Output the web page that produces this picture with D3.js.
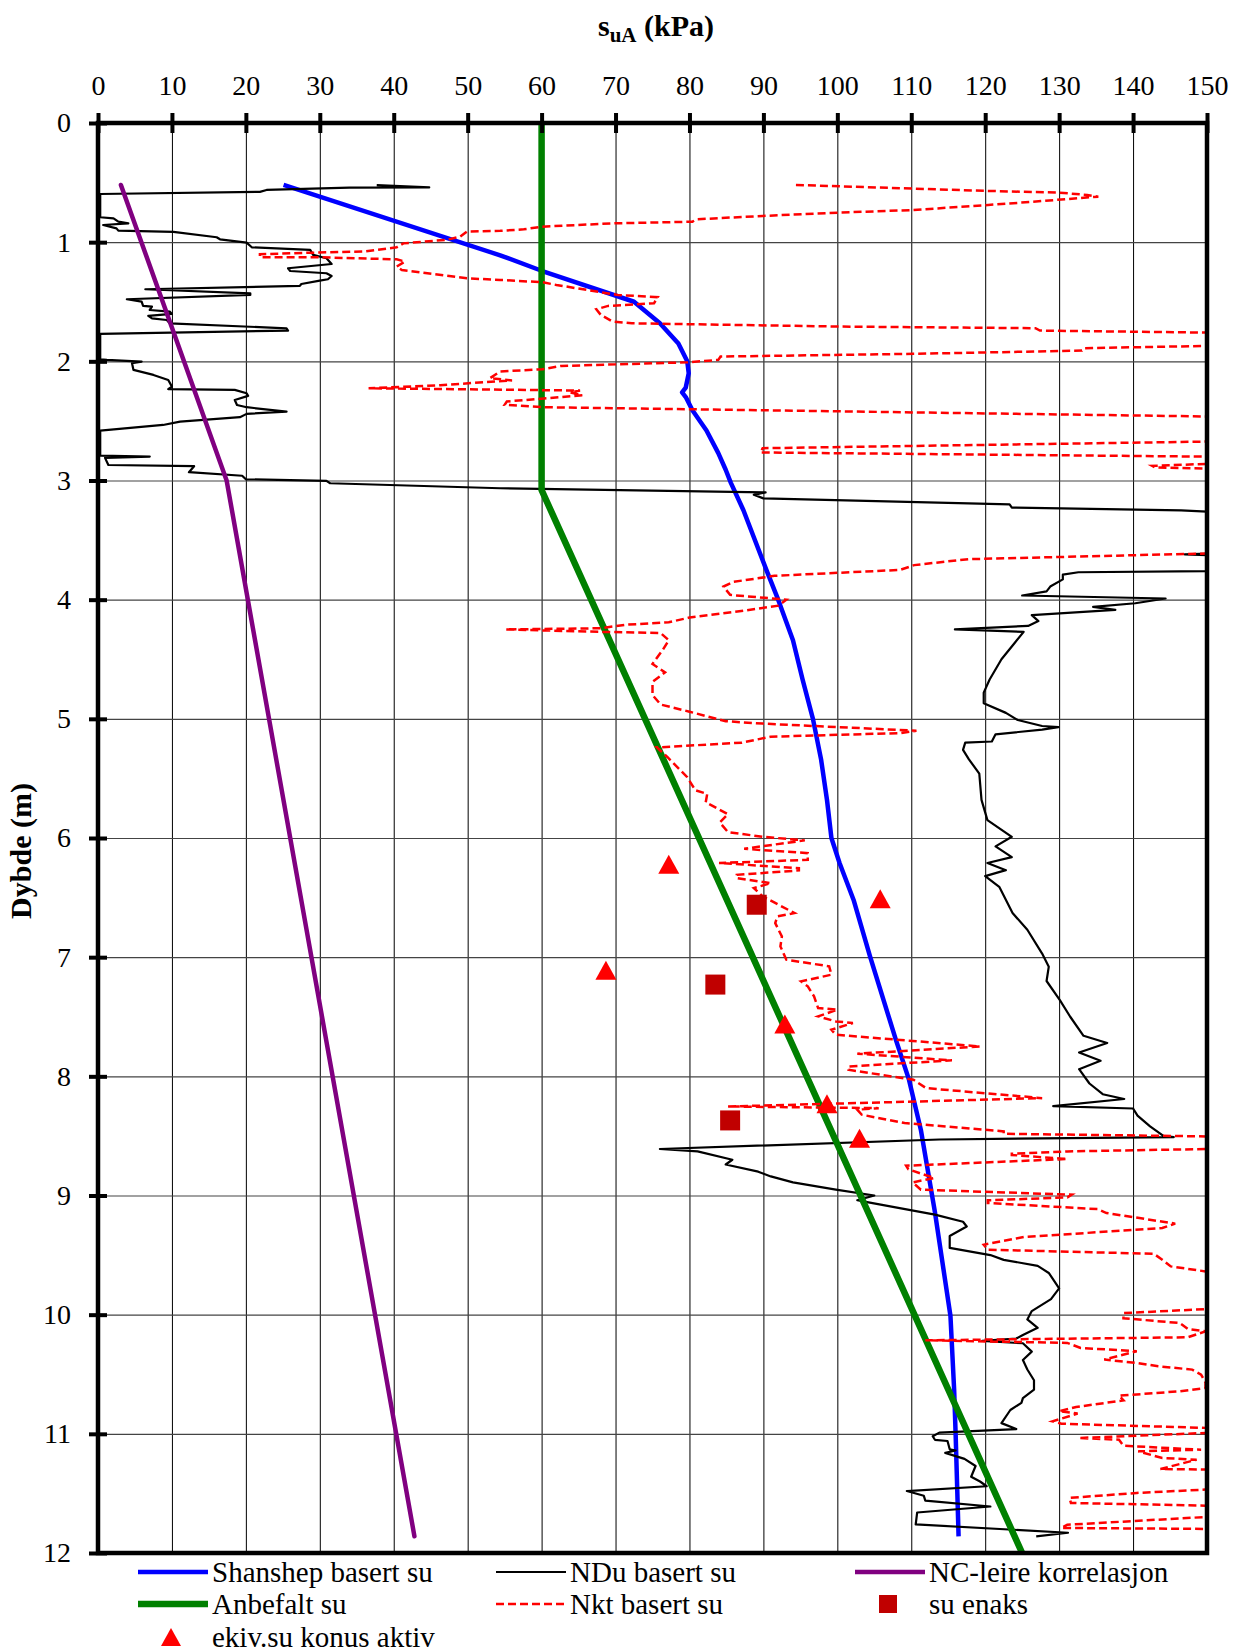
<!DOCTYPE html>
<html>
<head>
<meta charset="utf-8">
<script src="https://cdn.jsdelivr.net/npm/d3@7"></script>
<style>
  html, body { margin: 0; padding: 0; background: #fff; }
  svg { display: block; font-family: "Liberation Serif", "Times New Roman", serif; }
</style>
</head>
<body>
<svg id="chart" width="1236" height="1650"></svg>
<script>
// ---- Axis ticks ----
const suTicks = d3.range(0, 151, 10);      // kPa
const depthTicks = d3.range(0, 13, 1);     // m

// ---- Series: [su (kPa), depth (m)] ----
const shanshep = [
  [25.1,0.52],[54.4,1.11],[60,1.24],[72.5,1.50],[76.0,1.68],[78.5,1.85],[79.7,2.0],[79.9,2.1],
  [79.5,2.22],[79.0,2.26],[79.5,2.30],[80.4,2.41],[82.3,2.58],[83.9,2.77],[84.9,2.91],[85.6,3.02],
  [87.3,3.25],[90.4,3.75],[92.0,4.0],[94.0,4.34],[95.3,4.67],[96.7,5.0],[97.8,5.34],[98.6,5.68],
  [99.2,6.0],[100.3,6.21],[102.2,6.52],[104.4,6.99],[107.9,7.69],[109.7,8.03],[111.3,8.45],
  [113.2,9.14],[115.3,10.01],[115.8,10.63],[116.0,11.0],[116.4,11.86]
];

const ndu = [
  [37.7,0.522],[44.8,0.540],[34.0,0.543],[22.8,0.562],[21.9,0.578],[0.3,0.596],
  [0.3,0.791],[2.1,0.80],[2.75,0.828],[4.1,0.842],[0.7,0.856],[2.5,0.884],[2.75,0.903],[10.2,0.914],
  [16.05,0.959],[16.5,0.976],[20.1,1.004],[20.8,1.043],[28.7,1.065],[29.1,1.107],[30.9,1.135],
  [31.6,1.183],[25.7,1.219],[26.0,1.242],[30.9,1.261],[31.6,1.284],[31.1,1.311],[30.0,1.323],
  [27.5,1.351],[27.3,1.367],[6.4,1.395],[20.6,1.429],[20.6,1.443],[3.9,1.479],[5.9,1.499],
  [6.1,1.535],[7.3,1.541],[7.0,1.569],[9.7,1.583],[10.0,1.602],[6.8,1.619],[7.3,1.639],[9.3,1.653],
  [9.7,1.681],[25.5,1.723],[25.7,1.742],[0.3,1.770],
  [0.3,1.983],[1.2,1.988],[5.9,2.002],[4.6,2.016],[4.8,2.072],[7.5,2.114],[9.5,2.156],[10.0,2.212],
  [9.5,2.234],[18.5,2.240],[20.1,2.268],[20.3,2.290],[18.5,2.324],[18.8,2.366],[20.1,2.385],
  [25.5,2.422],[20.1,2.441],[19.2,2.469],[11.1,2.506],[8.8,2.534],[0.3,2.581],
  [0.3,2.791],[7.0,2.799],[0.95,2.81],[1.4,2.87],[13.0,2.88],[12.3,2.93],[19.5,2.96],[20.0,2.99],
  [30.9,3.003],[31.4,3.023],[54.4,3.065],[90.3,3.10],[88.7,3.12],[90.0,3.15],[123.3,3.2],
  [123.6,3.227],[146.5,3.25],[160,3.29],
  [160,3.59],[147,3.62],[160,3.65],
  [160,3.74],[150,3.76],[132.6,3.77],[130.5,3.79],[130.5,3.83],[128.8,3.89],[128.3,3.93],
  [125.0,3.965],[144.4,3.99],[140.3,4.03],[134.6,4.06],[137.6,4.085],[126.3,4.13],[127.2,4.18],
  [125.8,4.22],[115.9,4.25],[125.2,4.27],[123.9,4.37],[122.2,4.5],[120.6,4.67],[119.8,4.78],
  [119.8,4.87],[122.8,4.95],[124.4,5.01],[127.7,5.06],[129.9,5.07],[127.7,5.09],[121.4,5.13],
  [120.9,5.19],[117.3,5.2],[117.0,5.26],[117.8,5.34],[119.2,5.46],[119.5,5.68],[120.3,5.85],
  [123.6,5.99],[121.4,6.07],[123.6,6.16],[120.3,6.21],[122.8,6.27],[120.0,6.32],[121.9,6.41],
  [123.7,6.63],[125.7,6.77],[127.7,6.97],[128.6,7.08],[128.3,7.2],[130.1,7.36],[131.5,7.5],
  [133.3,7.66],[136.5,7.72],[132.7,7.8],[135.6,7.87],[132.7,7.94],[134.1,8.06],[135.9,8.15],
  [138.8,8.19],[129.2,8.25],[140.0,8.27],[140.6,8.33],[142.3,8.42],[144.1,8.50],[145.5,8.51],
  [113.8,8.53],[76.0,8.61],[81.1,8.63],[85.8,8.70],[84.9,8.74],[89.3,8.80],[91.0,8.84],[94.0,8.89],
  [99.8,8.95],[105.0,9.0],[102.7,9.04],[104.4,9.06],[113.2,9.16],[117.0,9.22],[117.5,9.26],
  [115.2,9.34],[115.2,9.44],[120.7,9.50],[122.5,9.54],[127.1,9.59],[128.6,9.65],[130.0,9.78],
  [128.9,9.87],[126.3,9.97],[125.7,10.04],[127.1,10.11],[125.1,10.17],[124.2,10.2],[119.6,10.22],
  [125.1,10.24],[126.3,10.31],[125.1,10.38],[125.7,10.46],[126.6,10.55],[126.6,10.63],[125.1,10.70],
  [124.9,10.74],[123.4,10.80],[122.2,10.91],[124.2,10.96],[113.8,10.99],[112.9,11.02],[113.2,11.05],
  [114.9,11.06],[115.2,11.13],[116.0,11.14],[114.6,11.16],[117.2,11.21],[118.7,11.27],[118.1,11.36],
  [119.3,11.40],[120.2,11.44],[109.4,11.48],[111.7,11.52],[111.9,11.56],[120.7,11.61],[110.8,11.66],
  [110.6,11.76],[131.2,11.83],[126.9,11.86]
];

const ncLeire = [[3.1,0.52],[17.4,3.0],[42.8,11.86]];

const anbefalt = [[60,0],[60,3.08],[125,12]];

const nkt = [
  [94.4,0.52],[120.4,0.57],[129.9,0.584],[133.8,0.604],[135.3,0.618],[124.9,0.668],[120.4,0.688],
  [110.3,0.73],[100.1,0.752],[89.9,0.78],[81.0,0.808],[80.4,0.828],[69.6,0.842],[60.1,0.87],
  [57.6,0.892],[54.4,0.905],[49.9,0.911],[49.0,0.953],[47.2,0.98],[41.3,1.01],[40.4,1.043],
  [35.9,1.079],[29.1,1.088],[21.9,1.102],[21.9,1.127],[30.0,1.127],[40.4,1.144],[41.5,1.163],
  [40.4,1.205],[41.1,1.233],[49.9,1.303],[54.4,1.317],[60.1,1.336],[62.0,1.359],[70.3,1.443],
  [75.7,1.462],[75.2,1.513],[69.0,1.535],[67.4,1.563],[68.0,1.61],[69.6,1.666],[72.2,1.681],
  [100.1,1.708],[126.8,1.722],[127.4,1.742],[150.3,1.759],[165,1.79],
  [165,1.85],[150.3,1.87],[133.4,1.89],[133.1,1.91],[110.3,1.937],[84.2,1.96],[83.9,1.988],
  [79.8,2.008],[62.6,2.039],[60.1,2.067],[54.4,2.085],[53.0,2.142],[56.0,2.16],[46.3,2.2],
  [36.6,2.226],[50,2.235],[65.2,2.245],[63.9,2.262],[65.5,2.285],[55.3,2.337],[55.0,2.365],
  [60.1,2.385],[150.3,2.463],[165,2.48],
  [165,2.66],[150.3,2.673],[89.9,2.729],[89.6,2.765],[150.3,2.80],[165,2.82],
  [165,2.85],[150.3,2.86],[142.6,2.877],[143,2.89],[150.3,2.9],[165,2.92],
  [165,3.58],[150.2,3.612],[117.8,3.66],[116.2,3.67],[110.4,3.71],[108.5,3.75],[91.5,3.80],
  [86.0,3.85],[84.6,3.89],[85.5,3.96],[93.1,4.0],[92.05,4.05],[87.6,4.09],[80.0,4.15],[77.2,4.19],
  [71.5,4.21],[67.9,4.24],[55.1,4.25],[67.9,4.27],[76.1,4.28],[77.2,4.34],[76.4,4.42],[75.0,4.54],
  [76.7,4.61],[75.0,4.69],[75.0,4.8],[76.1,4.88],[80.0,4.94],[84.9,5.02],[89.9,5.04],[110.7,5.10],
  [108.5,5.12],[90.95,5.15],[87.1,5.2],[75.6,5.24],[77.0,5.32],[79.7,5.49],[80.8,5.60],[82.4,5.63],
  [82.2,5.70],[85.2,5.80],[84.1,5.87],[85.2,5.95],[89.9,5.99],[95.6,6.02],[87.4,6.09],[89.6,6.1],
  [96.0,6.127],[96.0,6.183],[84.0,6.21],[94.8,6.253],[94.8,6.272],[86.4,6.309],[86.4,6.337],
  [91.0,6.379],[88.7,6.42],[89.9,6.49],[94.2,6.63],[91.9,6.658],[91.6,6.714],[92.5,6.826],
  [92.3,6.91],[93.1,7.021],[98.9,7.077],[99.2,7.147],[95.1,7.203],[96.0,7.245],[96.85,7.329],
  [97.4,7.427],[100.0,7.441],[97.4,7.497],[99.8,7.539],[102.1,7.553],[99.2,7.609],[99.8,7.651],
  [119.3,7.749],[102.7,7.81],[115.5,7.866],[101.5,7.917],[101.5,7.945],[110.3,8.029],[112.0,8.099],
  [127.7,8.183],[85.2,8.253],[105.6,8.267],[102.7,8.28],[103.3,8.322],[109.1,8.392],[122.5,8.462],
  [122.5,8.482],[149.9,8.504],[165,8.52],
  [165,8.59],[149.8,8.61],[131.1,8.63],[123.6,8.65],[123.6,8.66],[131.1,8.694],[109.3,8.75],
  [109.6,8.78],[113.1,8.853],[110.2,8.89],[111.3,8.951],[131.7,8.993],[131.1,9.016],[120.35,9.04],
  [120.35,9.063],[135.2,9.114],[136.4,9.147],[145.7,9.236],[143.95,9.273],[125.3,9.348],
  [119.8,9.413],[120.35,9.455],[142.8,9.489],[143.95,9.539],[145.1,9.595],[149.8,9.637],[165,9.66],
  [165,9.93],[149.8,9.953],[138.7,9.987],[138.7,10.03],[146.3,10.07],[147.4,10.12],[149.8,10.14],
  [147.4,10.19],[111.9,10.215],[131.1,10.237],[132.9,10.279],[140.5,10.307],[136.1,10.377],
  [140.5,10.405],[143.4,10.433],[148.0,10.461],[149.2,10.503],[149.8,10.57],[149.8,10.615],
  [146.3,10.643],[138.1,10.68],[138.7,10.719],[132.3,10.775],[130.0,10.81],[132.5,10.83],
  [129.1,10.895],[130.3,10.915],[149.8,10.95],[165,10.96],
  [165,10.98],[149.8,10.993],[132.6,11.035],[138.1,11.049],[138.7,11.1],[149.2,11.133],
  [140.7,11.147],[143.95,11.203],[148.6,11.217],[143.7,11.295],[149.8,11.30],[165,11.32],
  [165,11.45],[149.8,11.468],[140.5,11.496],[131.4,11.538],[131.6,11.58],[149.8,11.603],[165,11.62],
  [165,11.68],[149.8,11.698],[131.1,11.763],[130.3,11.79],[149.8,11.798],[165,11.81]
];

const suEnaks = [[89.1,6.56],[83.5,7.23],[85.5,8.37]];
const ekivKonus = [[77.2,6.22],[105.8,6.51],[68.7,7.11],[92.9,7.56],[98.6,8.23],[103.0,8.52]];

// ---- Legend labels ----
const legendLabels = [
  "Shanshep basert su", "NDu basert su", "NC-leire korrelasjon",
  "Anbefalt su", "Nkt basert su", "su enaks", "ekiv.su konus aktiv"
];

// ---- Layout ----
const plot = { left: 98, top: 123, right: 1207, bottom: 1553 };
const x = d3.scaleLinear().domain([0, 150]).range([plot.left, plot.right]);
const y = d3.scaleLinear().domain([0, 12]).range([plot.top, plot.bottom]);
const svg = d3.select("#chart");
const FONT = "Liberation Serif, Times New Roman, serif";

svg.append("defs").append("clipPath").attr("id", "plotClip")
  .append("rect")
  .attr("x", plot.left).attr("y", plot.top)
  .attr("width", plot.right - plot.left).attr("height", plot.bottom - plot.top);

// Grid
svg.append("g")
  .attr("transform", `translate(0,${plot.top})`)
  .call(d3.axisTop(x).tickValues(suTicks).tickSize(-(plot.bottom - plot.top)).tickFormat(""))
  .call(g => g.select(".domain").remove())
  .selectAll("line").attr("stroke", "#000").attr("stroke-width", 1);

svg.append("g")
  .attr("transform", `translate(${plot.left},0)`)
  .call(d3.axisLeft(y).tickValues(depthTicks).tickSize(-(plot.right - plot.left)).tickFormat(""))
  .call(g => g.select(".domain").remove())
  .selectAll("line").attr("stroke", "#444").attr("stroke-width", 1.2);

// Series
const line = d3.line().x(d => x(d[0])).y(d => y(d[1]));
const data = svg.append("g").attr("clip-path", "url(#plotClip)");

data.append("path").datum(shanshep).attr("d", line)
  .attr("fill", "none").attr("stroke", "#0000FF").attr("stroke-width", 4.5).attr("stroke-linejoin", "round");
data.append("path").datum(ndu).attr("d", line)
  .attr("fill", "none").attr("stroke", "#000").attr("stroke-width", 2.2).attr("stroke-linejoin", "round");
data.append("path").datum(ncLeire).attr("d", line)
  .attr("fill", "none").attr("stroke", "#800080").attr("stroke-width", 4.5).attr("stroke-linecap", "round");
data.append("path").datum(anbefalt).attr("d", line)
  .attr("fill", "none").attr("stroke", "#008000").attr("stroke-width", 6.5);
data.append("path").datum(nkt).attr("d", line)
  .attr("fill", "none").attr("stroke", "#FF0000").attr("stroke-width", 2.5)
  .attr("stroke-dasharray", "8,4");

// Markers
const markers = svg.append("g");
markers.selectAll("rect.enaks").data(suEnaks).join("rect")
  .attr("class", "enaks")
  .attr("x", d => x(d[0]) - 10).attr("y", d => y(d[1]) - 10)
  .attr("width", 20).attr("height", 20).attr("fill", "#C00000");
const tri = (cx, cy, w, h) => `M${cx},${cy - h / 2}L${cx + w / 2},${cy + h / 2}L${cx - w / 2},${cy + h / 2}Z`;
markers.selectAll("path.ekiv").data(ekivKonus).join("path")
  .attr("class", "ekiv")
  .attr("d", d => tri(x(d[0]), y(d[1]), 21, 19)).attr("fill", "#FF0000");

// Frame
svg.append("rect")
  .attr("x", plot.left).attr("y", plot.top)
  .attr("width", plot.right - plot.left).attr("height", plot.bottom - plot.top)
  .attr("fill", "none").attr("stroke", "#000").attr("stroke-width", 4.5);

// Top axis (ticks cross the frame)
const topAxis = svg.append("g")
  .attr("transform", `translate(0,${plot.top})`)
  .call(d3.axisTop(x).tickValues(suTicks).tickSize(10).tickPadding(18).tickSizeOuter(0))
  .attr("font-family", FONT).attr("font-size", 28);
topAxis.select(".domain").remove();
topAxis.selectAll("line").attr("y1", 10).attr("y2", -10).attr("stroke", "#000").attr("stroke-width", 4);
topAxis.selectAll("text").attr("fill", "#000").attr("dy", "0");

// Left axis
const leftAxis = svg.append("g")
  .attr("transform", `translate(${plot.left},0)`)
  .call(d3.axisLeft(y).tickValues(depthTicks).tickSize(9).tickPadding(18).tickSizeOuter(0))
  .attr("font-family", FONT).attr("font-size", 28);
leftAxis.select(".domain").remove();
leftAxis.selectAll("line").attr("x1", 9).attr("x2", -9).attr("stroke", "#000").attr("stroke-width", 4);
leftAxis.selectAll("text").attr("fill", "#000");

// Titles
const title = svg.append("text")
  .attr("x", 656).attr("y", 36).attr("text-anchor", "middle")
  .attr("font-family", FONT).attr("font-weight", "bold").attr("font-size", 30);
title.append("tspan").text("s");
title.append("tspan").attr("font-size", 21).attr("dy", 6).text("uA");
title.append("tspan").attr("dy", -6).text(" (kPa)");

svg.append("text")
  .attr("transform", "translate(31,851) rotate(-90)")
  .attr("text-anchor", "middle")
  .attr("font-family", FONT).attr("font-weight", "bold").attr("font-size", 30)
  .text("Dybde (m)");

// Legend
const legend = svg.append("g").attr("font-family", FONT).attr("font-size", 29);
const cols = [138, 496, 855];
const rows = [1572, 1604, 1637];
const sampleW = 70;
const legendItems = [
  { type: "line", color: "#0000FF", width: 4.5 },
  { type: "line", color: "#000", width: 2.2 },
  { type: "line", color: "#800080", width: 4.5 },
  { type: "line", color: "#008000", width: 6.5 },
  { type: "line", color: "#FF0000", width: 2.5, dash: "8,4" },
  { type: "square", color: "#C00000" },
  { type: "triangle", color: "#FF0000" }
];
legendItems.forEach((it, i) => {
  const cx = cols[i % 3], cy = rows[Math.floor(i / 3)];
  if (it.type === "line") {
    legend.append("line").attr("x1", cx).attr("x2", cx + sampleW).attr("y1", cy).attr("y2", cy)
      .attr("stroke", it.color).attr("stroke-width", it.width)
      .attr("stroke-dasharray", it.dash || null);
  } else if (it.type === "square") {
    legend.append("rect").attr("x", cx + 24).attr("y", cy - 9).attr("width", 18).attr("height", 18)
      .attr("fill", it.color);
  } else {
    legend.append("path").attr("d", tri(cx + 33, cy, 20, 18)).attr("fill", it.color);
  }
  legend.append("text").attr("x", cx + 74).attr("y", cy + 10).attr("fill", "#000").text(legendLabels[i]);
});
</script>
</body>
</html>
